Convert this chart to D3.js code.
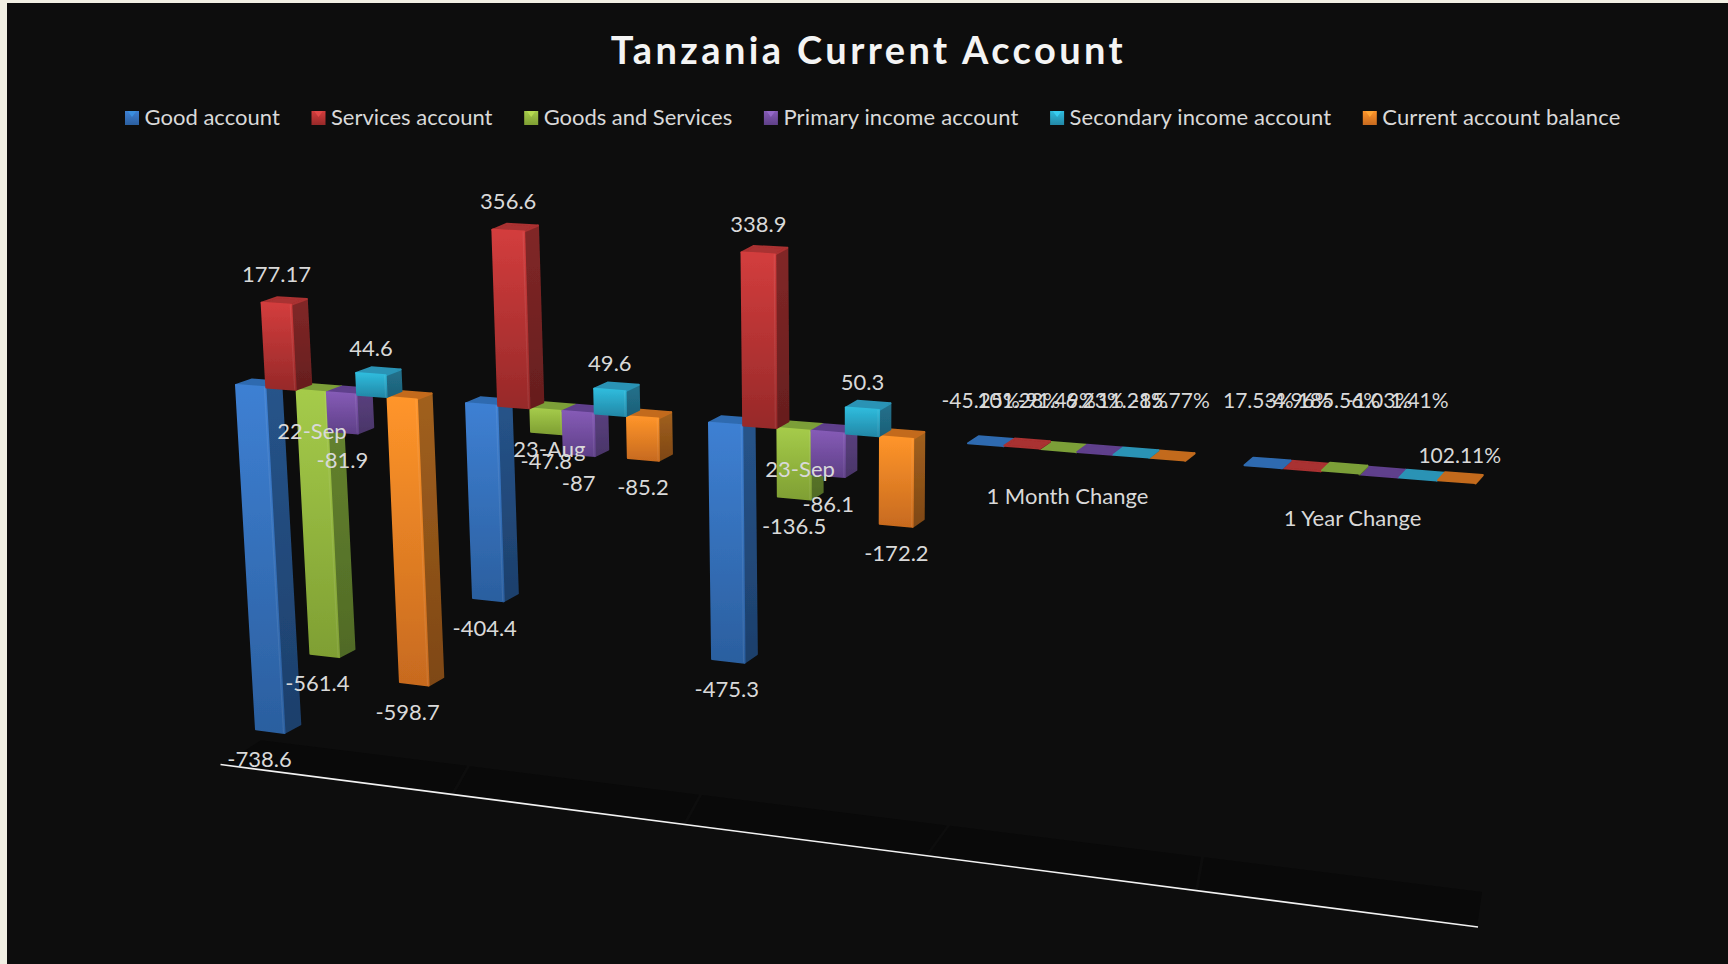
<!DOCTYPE html>
<html>
<head>
<meta charset="utf-8">
<script src="https://cdn.jsdelivr.net/npm/d3@7/dist/d3.min.js"></script>
<style>
html,body{margin:0;padding:0;background:#f1efe3;overflow:hidden}
svg{display:block}
text{font-family:Lato,"Open Sans",sans-serif}
</style>
</head>
<body>
<svg id="chart" width="1728" height="964"></svg>
<script>
// ---- data ----
const categories = ["22-Sep","23-Aug","23-Sep","1 Month Change","1 Year Change"];
const seriesNames = ["Good account","Services account","Goods and Services","Primary income account","Secondary income account","Current account balance"];
const goodAccount = [-738.6,-404.4,-475.3,-0.4525,0.1753];
const servicesAccount = [177.17,356.6,338.9,1.0128,-0.0496];
const goodsAndServices = [-561.4,-47.8,-136.5,-0.9149,1.8556];
const primaryIncome = [-81.9,-87,-86.1,0.0623,-0.0103];
const secondaryIncome = [44.6,49.6,50.3,0.1121,0.0141];
const currentBalance = [-598.7,-85.2,-172.2,-0.8577,1.0211];
const seriesValues = [goodAccount,servicesAccount,goodsAndServices,primaryIncome,secondaryIncome,currentBalance];
const percentCategories = ["1 Month Change","1 Year Change"];

// ---- style ----
const palette = [
 {a:"#3e80d3",b:"#2b5f9f",sa:"#26548a",sb:"#1d3f6b",top:"#2f6bb0",leg:"#3a8fe0"},
 {a:"#d33d3d",b:"#972929",sa:"#812727",sb:"#661e1e",top:"#a93030",leg:"#e04848"},
 {a:"#a5cb4a",b:"#7f9f33",sa:"#67862f",sb:"#506a26",top:"#7b9f38",leg:"#b6dc50"},
 {a:"#855bb6",b:"#5f4088",sa:"#5a4180",sb:"#4a3568",top:"#5f3f8c",leg:"#9468c8"},
 {a:"#2fbcdd",b:"#2388a7",sa:"#22718c",sb:"#1d6078",top:"#2a93b5",leg:"#38cdef"},
 {a:"#ff952a",b:"#c76a1f",sa:"#a1601f",sb:"#7e4713",top:"#c36b1d",leg:"#ffa535"}
];
const legendTextWidths = [135.3,161.5,188.5,235,261.5,238];

const svg = d3.select("#chart");
const defs = svg.append("defs");
palette.forEach((p,i)=>{
  [["f",p.a,p.b],["s",p.sa,p.sb]].forEach(([k,c1,c2])=>{
    const g = defs.append("linearGradient").attr("id",`${k}${i}`).attr("x1",0).attr("y1",0).attr("x2",0).attr("y2",1);
    g.append("stop").attr("offset",0).attr("stop-color",c1);
    g.append("stop").attr("offset",1).attr("stop-color",c2);
  });
});
defs.append("filter").attr("id","soft").attr("x","-10%").attr("y","-10%").attr("width","120%").attr("height","120%")
  .append("feGaussianBlur").attr("stdDeviation",0.5);

svg.append("rect").attr("x",7).attr("y",3).attr("width",1721).attr("height",961).attr("fill","#0d0d0d");

// ---- scales ----
const groupX = d3.scaleLinear([0,1,2,3,4],[236,466,709,968,1244.5]);
const pitch = d3.scaleLinear([0,1,2,3,4],[30.3,32.2,34.2,36.4,38.7]);
const zeroY = d3.scaleLinear([236,1438],[385,480.7]);
const valueY = d3.scaleLinear([-100,0,100],[46.6,0,-47.6]);
const growth = d3.scaleLinear([236,1438],[1,1.17]);
const depthDX = d3.scaleLinear([236,1476],[16,7]);
const depthDY = d3.scaleLinear([236,1476],[-5.5,-8]);
const VX = 846, VD = 10500;

function project(xz,v,d){
  const h = valueY(v)*growth(xz);
  const y = zeroY(xz)+h;
  const x = VX+(xz-VX)*(1-h/VD);
  return [x+d*depthDX(xz), y+d*(depthDY(xz)-Math.max(0,h)*0.0087)];
}
const poly = d3.line();

// ---- floor ----
const floorFront = d3.scaleLinear([0,1,2,3,4,5],[220.5,452,684,926,1196,1478]);
const floorBack = d3.scaleLinear([0,1,2,3,4,5],[259,468,700,948,1202,1483]);
const lineY = d3.scaleLinear([220.5,1478],[764.5,927]);
const backY = d3.scaleLinear([259,1483],[740,892]);
const floor = svg.append("g");
categories.forEach((c,g)=>{
  const a=floorFront(g)+2, b=floorFront(g+1)-1, c1=floorBack(g)+2, d1=floorBack(g+1)-1;
  floor.append("path").attr("fill","#090909")
    .attr("d",poly([[a,lineY(a)],[b,lineY(b)],[d1,backY(d1)],[c1,backY(c1)]])+"Z");
});
svg.append("line").attr("x1",220.5).attr("y1",lineY(220.5)).attr("x2",1478).attr("y2",lineY(1478))
  .attr("stroke","#f2f2f2").attr("stroke-width",1.6);

// ---- bars ----
const bars=[];
seriesValues.forEach((vals,i)=>vals.forEach((v,k)=>bars.push({i,k,v})));
// negatives first, left to right, so the upward columns sit over them
bars.sort((a,b)=>d3.ascending(a.k,b.k)||d3.ascending(a.v>0,b.v>0)||d3.ascending(a.i,b.i));

const barG = svg.append("g").attr("filter","url(#soft)");
bars.forEach(b=>{
  const x0 = groupX(b.k)+b.i*pitch(b.k);
  const x1 = x0+pitch(b.k)*0.97;
  const hi = Math.max(b.v,0), lo = Math.min(b.v,0);
  const pal = palette[b.i];
  const g = barG.append("g").attr("stroke-linejoin","round");
  g.append("path").attr("fill",`url(#s${b.i})`).attr("stroke",`url(#s${b.i})`).attr("stroke-width",2)
    .attr("d",poly([project(x1,hi,0),project(x1,hi,1),project(x1,lo,1),project(x1,lo,0)])+"Z");
  g.append("path").attr("fill",pal.top).attr("stroke",pal.top).attr("stroke-width",2)
    .attr("d",poly([project(x0,hi,0),project(x0,hi,1),project(x1,hi,1),project(x1,hi,0)])+"Z");
  if(Math.abs(b.v)>=5){
    g.append("path").attr("fill",`url(#f${b.i})`).attr("stroke",`url(#f${b.i})`).attr("stroke-width",2)
      .attr("d",poly([project(x0,hi,0),project(x1,hi,0),project(x1,lo,0),project(x0,lo,0)])+"Z");
    g.append("path").attr("fill","none").attr("stroke","#fff").attr("stroke-opacity",0.08).attr("stroke-width",1.2)
      .attr("d",poly([project(x1-1,hi,0),project(x1-1,lo,0)]));
  }
  b.x0=x0;b.x1=x1;
});

// ---- labels ----
const labelColor="#d9d9d9";
const pct = d3.formatLocale({decimal:".",thousands:",",grouping:[3],currency:["",""],minus:"-"}).format(".2%");
const labelG = svg.append("g").attr("font-size",22).attr("fill",labelColor).attr("text-anchor","middle");

categories.forEach((c,k)=>{
  const cx = groupX(k)+pitch(k)*3 - d3.scaleLinear([0,4],[15,8])(k);
  const drop = percentCategories.includes(c) ? 52.5 : 47.5;
  labelG.append("text").attr("x",cx).attr("y",zeroY(cx)+drop).text(c);
});
const pinnedY = 408;
bars.forEach(b=>{
  const isPct = percentCategories.includes(categories[b.k]);
  const xm=(b.x0+b.x1)/2;
  let x,y;
  if(isPct){
    x = xm-5+b.i*1.6;
    y = (b.i===5&&b.k===4) ? project(xm,0,0)[1]-19 : pinnedY;
  } else if(b.v>=0){
    const p=project(xm,b.v,0); x=p[0]; y=p[1]-(b.v>100?21.5:18.5);
  } else {
    const p=project(xm,b.v,0), lean=p[0]-xm; x=p[0]-0.55*lean; y=p[1]+36;
  }
  labelG.append("text").attr("x",x).attr("y",y)
    .attr("font-size",isPct?21:22).text(isPct?pct(b.v):String(b.v));
});

// ---- title ----
svg.append("text").attr("x",868.5).attr("y",64).attr("text-anchor","middle")
  .attr("font-size",38).attr("font-weight",700).attr("letter-spacing",3.4).attr("fill","#f4f4f4")
  .text("Tanzania Current Account");

// ---- legend ----
const legend = svg.append("g");
let lx=125;
seriesNames.forEach((name,i)=>{
  const g=legend.append("g").attr("transform",`translate(${lx},111)`);
  g.append("rect").attr("width",14).attr("height",14).attr("fill",`url(#f${i})`);
  g.append("path").attr("d",poly([[2.5,0],[11.5,0],[7,6]])+"Z").attr("fill",palette[i].leg);
  g.append("text").attr("x",19.5).attr("y",14).attr("font-size",22).attr("fill",labelColor)
    .attr("textLength",legendTextWidths[i]).attr("lengthAdjust","spacing").text(name);
  lx+=19.5+legendTextWidths[i]+31.7;
});
</script>
</body>
</html>
